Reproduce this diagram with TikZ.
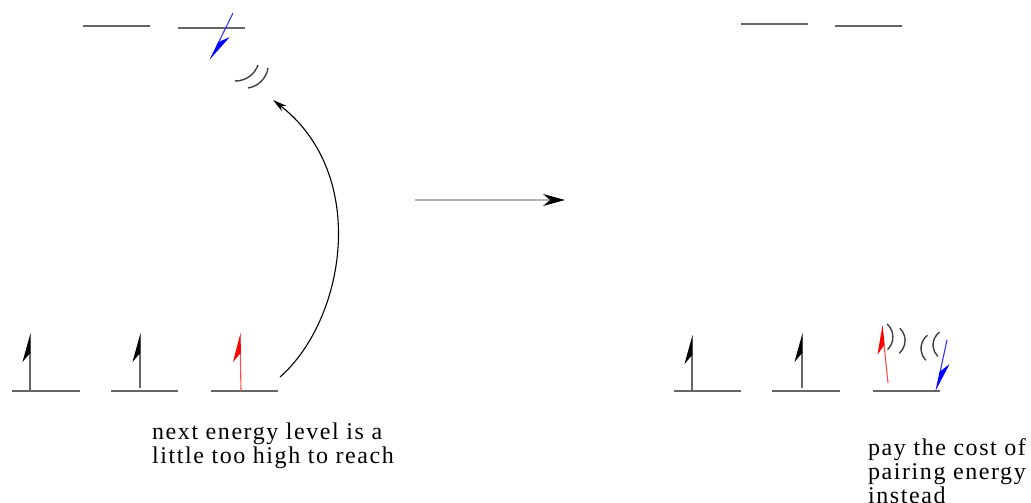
\documentclass[tikz,border=0pt]{standalone}
\usepackage{fontspec}
\setmainfont{Liberation Serif}
\newfontfamily\notefont[LetterSpace=6.5]{Liberation Serif}
\usetikzlibrary{arrows.meta}

\begin{document}
\begin{tikzpicture}[
  x=1pt,y=-1pt,
  level/.style={black!60,line width=1.3pt},
  spin/.style={black!60,line width=1.1pt,-{Stealth[harpoon,length=27pt,width=15pt,black]}},
  upspin/.style={spin,-{Stealth[harpoon,length=27pt,width=15pt,red]},red!70},
  downspin/.style={spin,-{Stealth[harpoon,length=27pt,width=15pt,blue]},blue!80},
  wave/.style={black!75,line width=1.4pt},
  note/.style={font=\notefont\fontsize{24}{24}\selectfont,align=left,anchor=north west,inner sep=0pt}
]
\useasboundingbox (0,0) rectangle (1031,503);

% left: excitation is too costly
\begin{scope}
  % levels
  \draw[level] (12,391) -- (80,391);
  \draw[level] (111,391) -- (178,391);
  \draw[level] (211,391) -- (278,391);
  \draw[level] (83,26) -- (150,26);
  \draw[level] (178,28) -- (245,28);

  % electrons
  \draw[spin] (30,391) -- (30,333);
  \draw[spin] (140,388) -- (140,333);
  \draw[upspin] (241,391) -- (240,333);
  \draw[downspin] (233,13) -- (210,60);

  % waves
  \draw[wave] (235.4,57) ++(19.5:24) arc[start angle=19.5,end angle=91,radius=24];
  \draw[wave] (244.3,64.3) ++(9:24) arc[start angle=9,end angle=81,radius=24];

  % jump
  \draw[black,line width=1.1pt,-{Stealth[length=14pt,width=7pt]}]
    (280,377) .. controls (345,320) and (370,175) .. (273,100);

  \node[note] (reach) at (152,423) {next energy level is a\\little too high to reach};
\end{scope}

% middle
\draw[black!30,line width=1.2pt,-{Stealth[length=22pt,width=12pt,black]}] (415,200) -- (565,200);

% right: pairing instead
\begin{scope}
  % levels
  \draw[level] (674,391) -- (741,391);
  \draw[level] (772,391) -- (840,391);
  \draw[level] (873,391) -- (940,391);
  \draw[level] (741,24) -- (808,24);
  \draw[level] (835,26) -- (902,26);

  % electrons
  \draw[spin] (692,391) -- (692,335);
  \draw[spin] (802,388) -- (802,333);
  \draw[upspin] (888,383) -- (882,325);
  \draw[downspin] (947,340) -- (936,391);

  % waves
  \draw[wave] (874.9,337) ++(-47:18) arc[start angle=-47,end angle=45,radius=18];
  \draw[wave] (888.1,340.5) ++(-46:17) arc[start angle=-46,end angle=49,radius=17];
  \draw[wave] (938,348.5) ++(231:17) arc[start angle=231,end angle=136,radius=17];
  \draw[wave] (948.8,345) ++(234:15.8) arc[start angle=234,end angle=134,radius=15.8];

  \node[note] (pair) at (868,438) {pay the cost of\\pairing energy\\instead};
\end{scope}

\end{tikzpicture}
\end{document}
